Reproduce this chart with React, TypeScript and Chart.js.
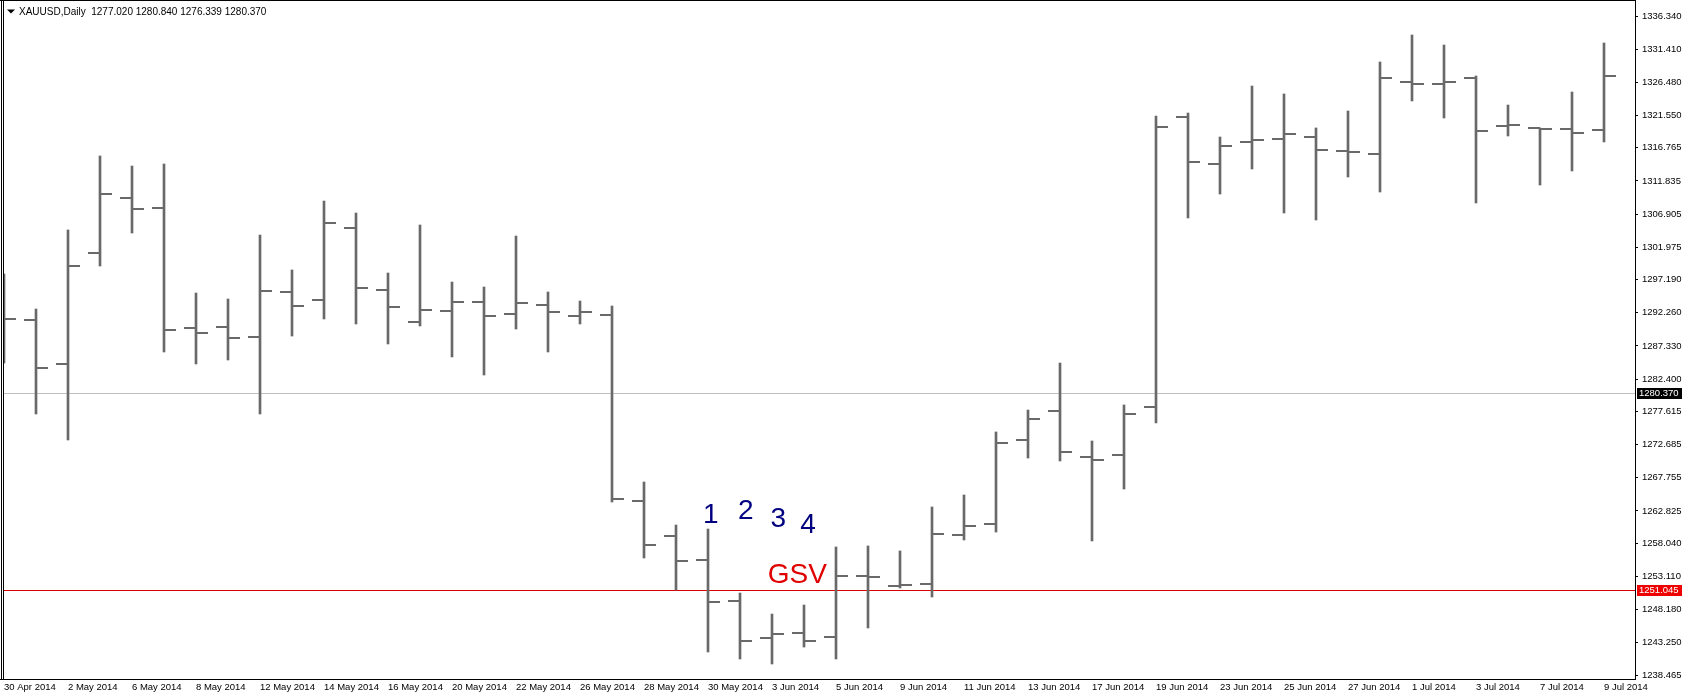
import { useEffect, useRef } from "react";
import { Chart, registerables } from "chart.js";

Chart.register(...registerables);

// ---------- data ----------
const dates = [
  "30 Apr 2014", "1 May 2014", "2 May 2014", "5 May 2014", "6 May 2014", "7 May 2014", "8 May 2014", "9 May 2014",
  "12 May 2014", "13 May 2014", "14 May 2014", "15 May 2014", "16 May 2014", "19 May 2014", "20 May 2014", "21 May 2014",
  "22 May 2014", "23 May 2014", "26 May 2014", "27 May 2014", "28 May 2014", "29 May 2014", "30 May 2014", "2 Jun 2014",
  "3 Jun 2014", "4 Jun 2014", "5 Jun 2014", "6 Jun 2014", "9 Jun 2014", "10 Jun 2014", "11 Jun 2014", "12 Jun 2014",
  "13 Jun 2014", "16 Jun 2014", "17 Jun 2014", "18 Jun 2014", "19 Jun 2014", "20 Jun 2014", "23 Jun 2014", "24 Jun 2014",
  "25 Jun 2014", "26 Jun 2014", "27 Jun 2014", "30 Jun 2014", "1 Jul 2014", "2 Jul 2014", "3 Jul 2014", "4 Jul 2014",
  "7 Jul 2014", "8 Jul 2014", "9 Jul 2014",
];

const opens = [
  1293.0, 1291.19, 1284.66, 1301.14, 1309.31, 1307.82, 1290.0, 1290.15, 1288.66, 1295.35,
  1294.16, 1304.85, 1295.65, 1290.89, 1292.53, 1293.86, 1292.08, 1293.42, 1291.78, 1291.93,
  1264.31, 1259.11, 1255.55, 1249.46, 1243.96, 1244.71, 1244.11, 1253.17, 1251.68, 1251.98,
  1259.26, 1260.89, 1273.37, 1277.67, 1270.84, 1271.14, 1278.27, 1321.34, 1314.36, 1317.63,
  1318.07, 1318.37, 1316.29, 1315.84, 1326.54, 1326.24, 1327.13, 1320.0, 1319.71, 1319.56,
  1319.41,
];
const highs = [
  1298.02, 1292.82, 1304.56, 1315.55, 1314.06, 1314.36, 1295.2, 1294.31, 1303.81, 1298.62,
  1308.86, 1307.08, 1298.17, 1305.3, 1296.83, 1296.09, 1303.66, 1295.35, 1294.01, 1293.27,
  1267.13, 1260.74, 1260.15, 1250.64, 1247.52, 1248.86, 1257.48, 1257.63, 1256.89, 1263.42,
  1265.2, 1274.56, 1277.82, 1284.8, 1273.22, 1278.57, 1321.49, 1321.93, 1318.37, 1325.94,
  1324.76, 1319.71, 1322.23, 1329.51, 1333.52, 1332.03, 1327.43, 1323.12, 1319.71, 1325.05,
  1332.33,
];
const lows = [
  1284.8, 1277.23, 1273.37, 1299.21, 1304.11, 1286.44, 1284.66, 1285.25, 1277.23, 1288.81,
  1291.34, 1290.6, 1287.63, 1290.3, 1285.7, 1283.02, 1289.85, 1286.44, 1290.6, 1264.16,
  1255.84, 1251.09, 1241.88, 1240.84, 1240.1, 1242.62, 1240.84, 1245.45, 1251.39, 1250.05,
  1258.52, 1259.7, 1270.69, 1270.25, 1258.37, 1266.09, 1275.89, 1306.34, 1309.9, 1313.62,
  1307.08, 1306.04, 1312.43, 1310.2, 1323.72, 1321.19, 1308.57, 1318.52, 1311.24, 1313.32,
  1317.63,
];
const closes = [
  1291.34, 1284.06, 1299.21, 1309.9, 1307.68, 1289.7, 1289.26, 1288.52, 1295.5, 1293.27,
  1305.6, 1295.94, 1293.12, 1292.68, 1293.86, 1291.78, 1293.72, 1292.38, 1292.38, 1264.6,
  1257.77, 1255.4, 1249.31, 1243.52, 1244.56, 1243.52, 1253.17, 1253.02, 1251.83, 1259.41,
  1260.6, 1272.92, 1276.49, 1271.58, 1270.4, 1277.23, 1319.85, 1314.66, 1317.03, 1317.92,
  1318.81, 1316.44, 1316.14, 1327.13, 1326.24, 1326.54, 1319.26, 1320.15, 1319.56, 1318.96,
  1327.43,
];

const yTicks = [
  1336.34, 1331.41, 1326.48, 1321.55, 1316.765, 1311.835, 1306.905, 1301.975, 1297.19, 1292.26,
  1287.33, 1282.4, 1277.615, 1272.685, 1267.755, 1262.825, 1258.04, 1253.11, 1248.18, 1243.25, 1238.465,
];
const labelStep = 2;

const headerSymbol = "XAUUSD,Daily";
const headerValues = [1277.02, 1280.84, 1276.339, 1280.37];

const bidPrice = 1280.37;
const levelPrice = 1251.045;

const waveLabels = ["1", "2", "3", "4"];
const waveX = [22.09, 23.18, 24.2, 25.13];
const waveY = [1262.53, 1263.05, 1261.96, 1261.1];
const zoneLabel = "GSV";
const zoneX = 24.79;
const zoneY = 1253.61;

const yMin = 1237.871;
const yMax = 1338.568;
const xMin = -0.03125;
const xMax = 50.96875;

// ---------- styles ----------
const BAR_COLOR = "#696969";
const FAMILY = '"Liberation Sans", Arial, sans-serif';

const ohlcPlugin = {
  id: "ohlcExtras",
  beforeDatasetsDraw(chart: any) {
    const { ctx, chartArea: a } = chart;
    const y = chart.scales.y;
    ctx.save();
    const yb = Math.round(y.getPixelForValue(bidPrice));
    ctx.fillStyle = "#c0c0c0";
    ctx.fillRect(a.left, yb, a.right - a.left, 1);
    const yl = Math.round(y.getPixelForValue(levelPrice));
    ctx.fillStyle = "#d80000";
    ctx.fillRect(a.left, yl, a.right - a.left, 1);
    ctx.restore();
  },
  afterDatasetsDraw(chart: any) {
    const { ctx, chartArea: a } = chart;
    const x = chart.scales.x;
    const y = chart.scales.y;
    ctx.save();
    ctx.beginPath();
    ctx.rect(a.left, a.top, a.right - a.left, a.bottom - a.top);
    ctx.clip();
    ctx.fillStyle = BAR_COLOR;
    for (let i = 0; i < dates.length; i++) {
      const xp = Math.round(x.getPixelForValue(i));
      const yo = Math.round(y.getPixelForValue(opens[i]));
      const yc = Math.round(y.getPixelForValue(closes[i]));
      ctx.fillRect(xp - 12, yo - 1, 12, 2);
      ctx.fillRect(xp + 1, yc - 1, 11, 2);
    }
    // annotations
    ctx.font = `28px ${FAMILY}`;
    ctx.textAlign = "center";
    ctx.textBaseline = "alphabetic";
    ctx.fillStyle = "#000080";
    for (let k = 0; k < waveLabels.length; k++) {
      ctx.fillText(waveLabels[k], x.getPixelForValue(waveX[k]), y.getPixelForValue(waveY[k]) + 10);
    }
    ctx.fillStyle = "#e00000";
    ctx.fillText(zoneLabel, x.getPixelForValue(zoneX), y.getPixelForValue(zoneY) + 10);
    ctx.restore();
  },
  afterDraw(chart: any) {
    const { ctx, chartArea: a } = chart;
    const y = chart.scales.y;
    ctx.save();
    // frame
    ctx.fillStyle = "#000";
    ctx.fillRect(0, 0, a.right + 1, 1);
    ctx.fillRect(1, 0, 1, a.bottom + 1);
    ctx.fillRect(a.left, a.top, 1, a.bottom - a.top);
    ctx.fillRect(a.right, 0, 1, a.bottom + 1);
    ctx.fillRect(0, a.bottom, a.right + 1, 1);
    // header
    ctx.beginPath();
    ctx.moveTo(7, 9.5);
    ctx.lineTo(15, 9.5);
    ctx.lineTo(11, 13.5);
    ctx.closePath();
    ctx.fill();
    ctx.font = `10px ${FAMILY}`;
    ctx.textAlign = "left";
    ctx.textBaseline = "alphabetic";
    ctx.fillText(`${headerSymbol}  ${headerValues.map((v) => v.toFixed(3)).join(" ")}`, 19, 14.5);
    // price boxes
    ctx.font = `9.5px ${FAMILY}`;
    const boxes = [
      { v: bidPrice, bg: "#000000" },
      { v: levelPrice, bg: "#ee0000" },
    ];
    for (const b of boxes) {
      const yp = Math.round(y.getPixelForValue(b.v));
      ctx.fillStyle = b.bg;
      ctx.fillRect(a.right + 2, yp - 5, 45, 11);
      ctx.fillStyle = "#ffffff";
      ctx.textBaseline = "middle";
      ctx.fillText(b.v.toFixed(3), a.right + 4, yp + 0.5);
    }
    ctx.restore();
  },
};

export default function App() {
  const ref = useRef<HTMLCanvasElement | null>(null);

  useEffect(() => {
    if (!ref.current) return;
    const chart = new Chart(ref.current, {
      type: "bar",
      data: {
        datasets: [
          {
            data: dates.map((_, i) => ({ x: i, y: [lows[i], highs[i]] })) as any,
            backgroundColor: BAR_COLOR,
            borderWidth: 0,
            barThickness: 2,
            borderSkipped: false,
          },
        ],
      },
      options: {
        animation: false,
        responsive: true,
        maintainAspectRatio: false,
        devicePixelRatio: 1,
        layout: { padding: { left: 3, top: 1, right: 0, bottom: 0 } },
        plugins: { legend: { display: false }, tooltip: { enabled: false } },
        scales: {
          x: {
            type: "linear",
            min: xMin,
            max: xMax,
            offset: false,
            grid: { display: false, drawTicks: false, offset: false },
            border: { display: false },
            afterBuildTicks: (s: any) => {
              s.ticks = dates
                .map((_, i) => i)
                .filter((i) => i % labelStep === 0)
                .map((v) => ({ value: v }));
            },
            afterFit: (s: any) => {
              s.height = 16;
              s.paddingLeft = 0;
              s.paddingRight = 0;
            },
            ticks: {
              autoSkip: false,
              maxRotation: 0,
              minRotation: 0,
              align: "start",
              padding: 3,
              color: "#000",
              font: { family: FAMILY, size: 9.5 },
              callback: (v: any) => dates[Number(v)] ?? "",
            },
          },
          y: {
            type: "linear",
            position: "right",
            min: yMin,
            max: yMax,
            beginAtZero: false,
            grid: { drawOnChartArea: false, drawTicks: true, tickLength: 3, color: "#000" },
            border: { display: false },
            afterBuildTicks: (s: any) => {
              s.ticks = yTicks.map((v) => ({ value: v }));
            },
            afterFit: (s: any) => {
              s.width = 50;
              s.paddingTop = 0;
              s.paddingBottom = 0;
            },
            ticks: {
              padding: 4,
              color: "#000",
              font: { family: FAMILY, size: 9.5 },
              callback: (v: any) => Number(v).toFixed(3),
            },
          },
        },
      },
      plugins: [ohlcPlugin],
    });
    return () => chart.destroy();
  }, []);

  return (
    <div style={{ position: "absolute", left: 0, top: 0, width: 1685, height: 695, background: "#fff" }}>
      <canvas ref={ref} />
    </div>
  );
}
